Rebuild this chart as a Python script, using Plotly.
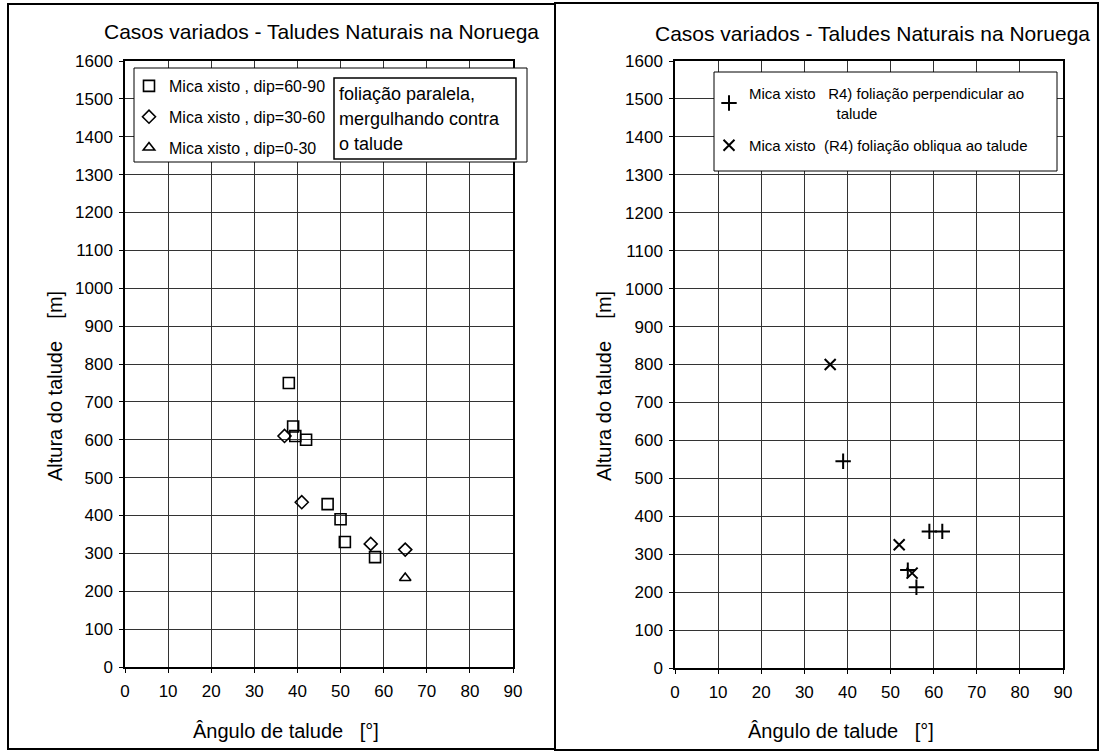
import plotly.graph_objects as go

W, H = 1101, 753

# ---- data ----
sq_x = [38, 39, 39.5, 42, 47, 50, 51, 58]
sq_y = [750, 635, 610, 600, 430, 390, 330, 290]
di_x = [37, 41, 57, 65]
di_y = [610, 435, 325, 310]
tr_x = [65]
tr_y = [235]

plus_x = [39, 59, 62, 54, 56]
plus_y = [545, 360, 360, 258, 213]
cross_x = [36, 52, 55]
cross_y = [800, 325, 250]

x_ticks = list(range(0, 91, 10))
y_ticks = list(range(0, 1601, 100))

NB = "\u00a0"
title_text = "Casos variados - Taludes Naturais na Noruega"
x_title = "Ângulo de talude" + NB * 3 + "[°]"
y_title = "Altura do talude" + NB * 4 + "[m]"
left_names = ["Mica xisto , dip=60-90", "Mica xisto , dip=30-60", "Mica xisto , dip=0-30"]
right_names = ["Mica xisto" + NB * 3 + "R4) foliação perpendicular ao<br>"
               + NB * 21 + "talude",
               "Mica xisto" + NB * 2 + "(R4) foliação obliqua ao talude"]
note_lines = ["foliação paralela,", "mergulhando contra", "o talude"]

def px(x):
    return x / W

def py(y):
    return 1 - y / H

FONT = "Liberation Sans, Arial, sans-serif"
fig = go.Figure()

fig.add_trace(go.Scatter(x=sq_x, y=sq_y, mode="markers", name=left_names[0],
                         marker=dict(symbol="square-open", color="black", size=11,
                                     line=dict(color="black", width=1.6)),
                         xaxis="x", yaxis="y", legend="legend", legendgroup="a"))
fig.add_trace(go.Scatter(x=di_x, y=di_y, mode="markers", name=left_names[1],
                         marker=dict(symbol="diamond-open", color="black", size=10,
                                     line=dict(color="black", width=1.6)),
                         xaxis="x", yaxis="y", legend="legend", legendgroup="b"))
fig.add_trace(go.Scatter(x=tr_x, y=tr_y, mode="markers", name=left_names[2],
                         marker=dict(symbol="triangle-up-open", color="black", size=10,
                                     line=dict(color="black", width=1.6)),
                         xaxis="x", yaxis="y", legend="legend", legendgroup="c"))
fig.add_trace(go.Scatter(x=plus_x, y=plus_y, mode="markers", name=right_names[0],
                         marker=dict(symbol="cross-thin-open", color="black", size=11,
                                     line=dict(color="black", width=2)),
                         xaxis="x2", yaxis="y2", legend="legend2", legendgroup="d"))
fig.add_trace(go.Scatter(x=cross_x, y=cross_y, mode="markers", name=right_names[1],
                         marker=dict(symbol="x-thin-open", color="black", size=11,
                                     line=dict(color="black", width=2)),
                         xaxis="x2", yaxis="y2", legend="legend2", legendgroup="e"))

axis_common = dict(
    range=[0, 90], tickvals=x_ticks, showgrid=True, gridcolor="#333", gridwidth=1,
    showline=True, linecolor="black", linewidth=1.5, mirror=True,
    ticks="outside", ticklen=4, tickcolor="black", automargin=False, ticklabelstandoff=4,
    tickfont=dict(family=FONT, size=17, color="black"), zeroline=False, fixedrange=True,
)
yaxis_common = dict(
    range=[0, 1600], tickvals=y_ticks, showgrid=True, gridcolor="#333", gridwidth=1,
    showline=True, linecolor="black", linewidth=1.5, mirror=True,
    ticks="outside", ticklen=4, tickcolor="black", automargin=False, ticklabelstandoff=3,
    tickfont=dict(family=FONT, size=17, color="black"), zeroline=False, fixedrange=True,
)

fig.update_layout(
    template="none",
    width=W, height=H, margin=dict(l=0, r=0, t=0, b=0, pad=0, autoexpand=False),
    paper_bgcolor="white", plot_bgcolor="white",
    font=dict(family=FONT, color="black"),
    xaxis=dict(domain=[px(125), px(513)], anchor="y", **axis_common),
    yaxis=dict(domain=[py(667), py(61)], anchor="x", **yaxis_common),
    xaxis2=dict(domain=[px(675), px(1063)], anchor="y2", **axis_common),
    yaxis2=dict(domain=[py(668), py(61)], anchor="x2", **yaxis_common),
    legend=dict(x=px(129), y=py(69), xanchor="left", yanchor="top",
                bgcolor="rgba(0,0,0,0)", borderwidth=0, font=dict(size=16, family=FONT),
                traceorder="grouped", tracegroupgap=7, itemwidth=30),
    legend2=dict(x=px(709), y=py(77), xanchor="left", yanchor="top",
                 bgcolor="rgba(0,0,0,0)", borderwidth=0, font=dict(size=15, family=FONT),
                 traceorder="grouped", tracegroupgap=10, itemwidth=30),
    showlegend=True,
)

shapes = [
    # panel frames
    dict(type="rect", xref="paper", yref="paper", x0=px(8), x1=px(555), y0=py(749), y1=py(4),
         line=dict(color="black", width=2), fillcolor="rgba(0,0,0,0)", layer="above"),
    dict(type="rect", xref="paper", yref="paper", x0=px(555), x1=px(1098), y0=py(750), y1=py(3),
         line=dict(color="black", width=2), fillcolor="rgba(0,0,0,0)", layer="above"),
    # legend boxes
    dict(type="rect", xref="paper", yref="paper", x0=px(134), x1=px(527), y0=py(162), y1=py(68),
         line=dict(color="black", width=1), fillcolor="white", layer="above"),
    dict(type="rect", xref="paper", yref="paper", x0=px(334), x1=px(516), y0=py(159), y1=py(78),
         line=dict(color="black", width=1.5), fillcolor="white", layer="above"),
    dict(type="rect", xref="paper", yref="paper", x0=px(714), x1=px(1057), y0=py(171), y1=py(72),
         line=dict(color="black", width=1), fillcolor="white", layer="above"),
]
fig.update_layout(shapes=shapes)

ann = []
ann.append(dict(text=title_text, x=px(321), y=py(32), xref="paper", yref="paper",
                xanchor="center", yanchor="middle",
                showarrow=False, font=dict(size=21, family=FONT)))
ann.append(dict(text=title_text, x=px(872), y=py(34), xref="paper", yref="paper",
                xanchor="center", yanchor="middle",
                showarrow=False, font=dict(size=21, family=FONT)))
for cx in (286, 841):
    ann.append(dict(text=x_title, x=px(cx), y=py(731), xref="paper", yref="paper",
                    xanchor="center", yanchor="middle",
                    showarrow=False, font=dict(size=20, family=FONT)))
for cx in (55, 604):
    ann.append(dict(text=y_title, x=px(cx), y=py(386), xref="paper", yref="paper",
                    xanchor="center", yanchor="middle",
                    showarrow=False, textangle=-90, font=dict(size=20, family=FONT)))
for i, line in enumerate(note_lines):
    ann.append(dict(text=line, x=px(337), y=py(94 + 25 * i), xref="paper", yref="paper",
                    xanchor="left", yanchor="middle",
                    showarrow=False, font=dict(size=18, family=FONT)))
fig.update_layout(annotations=ann)

fig.write_html("out.html", config={"displayModeBar": False},
               post_script="document.body.style.margin='0';document.body.style.overflow='hidden';")
